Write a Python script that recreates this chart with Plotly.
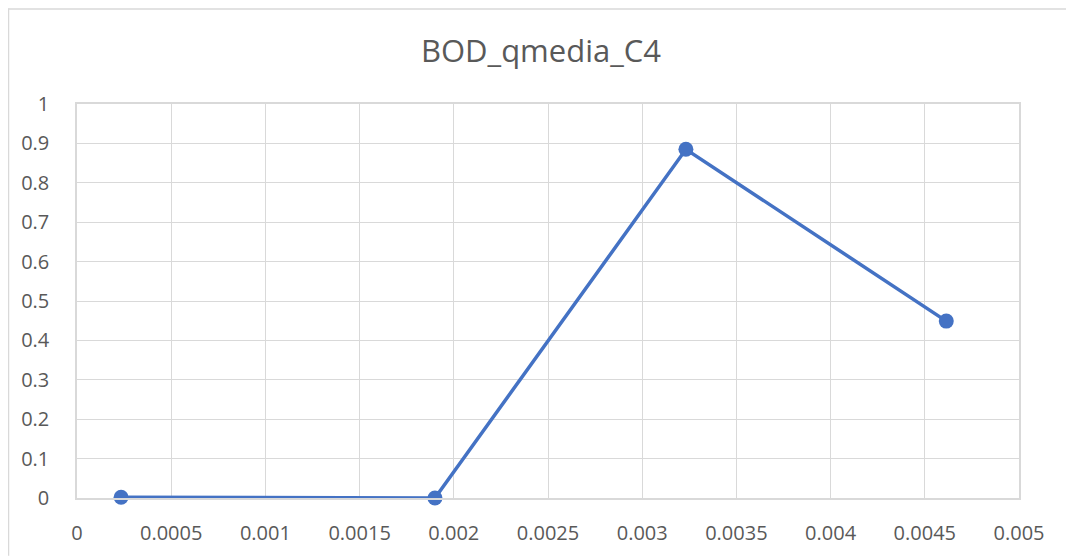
import plotly.graph_objects as go

# data
x_vals = [0.000234, 0.0019, 0.003232, 0.004614]
y_vals = [0.002, 0.0, 0.885, 0.449]

# page has an 8px body margin, so the figure is sized/offset for that
W, H = 1066, 550
L, R, T, B = 69, 55, 96, 58
pw, ph = W - L - R, H - T - B

def px(p):
    return (p - L) / pw

def py(p):
    return (H - B - p) / ph

grid = "#d9d9d9"
txt = "#595959"

fig = go.Figure()
fig.add_trace(go.Scatter(
    x=x_vals, y=y_vals,
    mode="lines+markers",
    line=dict(color="#4472C4", width=3.5),
    marker=dict(color="#4472C4", size=15),
    showlegend=False,
    cliponaxis=False,
))

fig.update_layout(
    width=W, height=H,
    margin=dict(l=L, r=R, t=T, b=B),
    paper_bgcolor="white", plot_bgcolor="white",
    font=dict(family="Open Sans", color=txt, size=20),
    title=dict(text="BOD_qmedia_C4", x=0.5, xanchor="center",
               y=1 - 43 / H, yanchor="middle",
               font=dict(size=31, color=txt)),
    xaxis=dict(range=[0, 0.005], dtick=0.0005, tick0=0,
               showgrid=True, gridcolor=grid, gridwidth=1,
               showline=True, linecolor=grid, linewidth=1.5, mirror=True,
               zeroline=False, ticks="",
               tickformat="~g", ticklabelstandoff=16, fixedrange=True,
               tickfont=dict(size=20, color=txt)),
    yaxis=dict(range=[0, 1], dtick=0.1, tick0=0,
               showgrid=True, gridcolor=grid, gridwidth=1,
               showline=True, linecolor=grid, linewidth=1.5, mirror=True,
               zeroline=False, ticks="", tickformat="~g",
               ticklabelstandoff=22, fixedrange=True,
               tickfont=dict(size=20, color=txt)),
    shapes=[
        dict(type="line", xref="paper", yref="paper",
             x0=px(0), x1=px(W), y0=py(0.5), y1=py(0.5),
             line=dict(color=grid, width=1.5)),
        dict(type="line", xref="paper", yref="paper",
             x0=px(0.5), x1=px(0.5), y0=py(0), y1=py(H),
             line=dict(color=grid, width=1.5)),
    ],
)

fig.write_html("out.html", config={"displayModeBar": False})
